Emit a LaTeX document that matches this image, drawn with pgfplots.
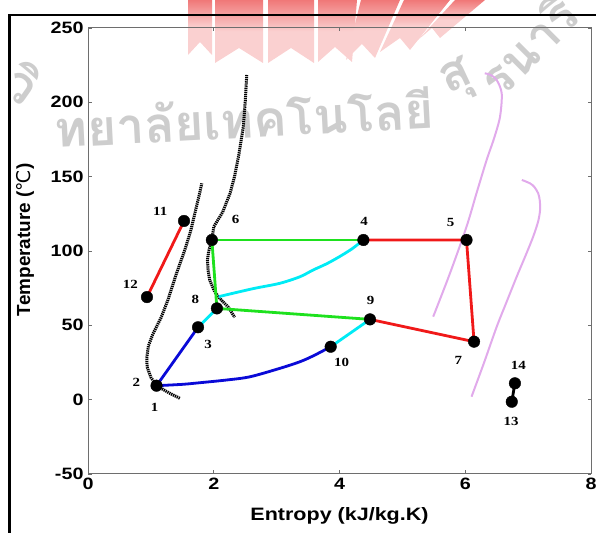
\documentclass[border=0pt]{standalone}
\usepackage{pgfplots}
\pgfplotsset{compat=1.18}
\usepackage{fontspec}
\setmainfont{Liberation Sans}
\newfontfamily\arialx{Liberation Sans}[FakeStretch=1.2]
\newfontfamily\timesx{Liberation Serif}[FakeStretch=1.2]
\newfontfamily\thaifont[Script=Thai]{Loma}
\newfontfamily\djv{DejaVu Sans}
\definecolor{myblue}{RGB}{10,10,215}
\definecolor{mycyan}{RGB}{0,235,245}
\definecolor{mygreen}{RGB}{30,225,30}
\definecolor{myred}{RGB}{240,25,25}
\definecolor{myviolet}{RGB}{225,170,235}
\definecolor{wmgray}{RGB}{205,205,205}
\definecolor{wmpink}{RGB}{250,208,208}
\definecolor{wmred}{RGB}{240,120,120}
\definecolor{axgray}{RGB}{110,110,110}
\begin{document}
\begin{tikzpicture}
\path[use as bounding box] (0,0) rectangle (596bp,533bp);
% watermark (logo strips)
\begin{scope}[yshift=533bp,x=1bp,y=-1bp]
\shade[top color=wmred, bottom color=wmpink, middle color=wmpink] (188,0)--(212,0)--(212,55)--(200,42)--(188,55)--cycle;
\shade[top color=wmred, bottom color=wmpink, middle color=wmpink] (215,0)--(263,0)--(263,63)--(239,48)--(215,63)--cycle;
\shade[top color=wmred, bottom color=wmpink, middle color=wmpink] (268,0)--(314,0)--(314,63)--(291,48)--(268,63)--cycle;
\shade[top color=wmred, bottom color=wmpink, middle color=wmpink] (318,0)--(357,0)--(352,62)--(335,47)--(318,62)--cycle;
\shade[top color=wmred, bottom color=wmpink, middle color=wmpink] (361,0)--(400,0)--(375,58)--(362,44)--(346,60)--cycle;
\shade[top color=wmred, bottom color=wmpink, middle color=wmpink] (404,0)--(450,0)--(410,50)--(400,38)--(380,52)--cycle;
\shade[top color=wmred, bottom color=wmpink, middle color=wmpink] (455,0)--(485,0)--(440,38)--(432,28)--(418,40)--cycle;
\end{scope}
% watermark text
\begin{scope}[font=\thaifont\bfseries\fontsize{50}{50}\selectfont, text=wmgray]
\node[rotate=-35,anchor=center] at (24bp,450bp) {วิ};
\node[rotate=3,anchor=base] at (245bp,395bp) {ทยาลัยเทคโนโลยี};
\node[rotate=25,anchor=center] at (458bp,452bp) {สุ};
\node[rotate=45,anchor=center] at (527bp,488bp) {รนารี};
\end{scope}
% frame
\draw[line width=2.5bp] (9.5bp,-10bp) -- (9.5bp,518bp) -- (620bp,518bp);
\begin{axis}[
  at={(88bp,59bp)}, anchor=south west,
  width=503bp, height=446bp, scale only axis,
  xmin=0, xmax=8, ymin=-50, ymax=250,
  xtick={0,2,4,6,8}, ytick={-50,0,50,100,150,200,250},
  tick align=inside, major tick length=3.5bp,
  axis line style={axgray, line width=1bp},
  every tick/.style={axgray, line width=0.8bp},
  tick label style={font=\arialx\bfseries\fontsize{16.5}{18}\selectfont},
  /pgf/number format/assume math mode=true,
  xticklabel style={yshift=-1bp},
  yticklabel style={xshift=-1bp},
  xlabel={Entropy (kJ/kg.K)},
  ylabel={Temperature ({\djv\mdseries ℃})},
  xlabel style={font=\arialx\bfseries\fontsize{18}{20}\selectfont, at={(axis description cs:0.5,-0.105)}, anchor=base},
  ylabel style={font=\bfseries\fontsize{19}{21}\selectfont, at={(axis description cs:-0.125,0.525)}, anchor=center},
  clip=false,
]
% dotted saturation curves
\addplot[black, line width=3bp, dash pattern=on 1.3bp off 0.8bp] coordinates {
(1.46,0.9)(1.27,5)(1.09,9.4)(1.0,15)(0.94,22)(0.935,28)(0.96,36)(1.03,44)(1.16,55)(1.27,67)(1.40,84)(1.54,100.7)(1.63,113)(1.70,125.4)(1.76,136)(1.81,145.5)};
\addplot[black, line width=3bp, dash pattern=on 1.3bp off 0.8bp] coordinates {
(2.525,218.4)(2.50,200)(2.47,183.6)(2.40,165)(2.33,150)(2.26,138.8)(2.14,126)(2.0,116.3)(1.97,107.4)(1.92,100)(1.90,93.9)(1.91,87)(1.935,80.5)(2.015,72.6)(2.094,68.2)(2.227,62.5)(2.333,55.4)};
% violet curves
\addplot[myviolet, line width=2bp, smooth] coordinates {
(5.49,55.8)(5.757,85)(6.02,116.3)(6.18,139)(6.34,161.2)(6.46,176)(6.553,190.3)(6.58,206)(6.50,215)(6.40,218.5)(6.31,219.5)};
\addplot[myviolet, line width=2bp, smooth] coordinates {
(6.10,2)(6.30,25)(6.50,49)(6.66,66)(6.818,82.7)(6.96,97)(7.08,109.6)(7.16,120)(7.19,127.6)(7.185,134)(7.16,138.8)(7.10,143)(7.03,145.5)(6.90,147.8)};
% blue
\addplot[myblue, line width=2.8bp] coordinates {(1.09,9.4)(1.75,48.7)};
\addplot[myblue, line width=2.8bp, smooth] coordinates {
(1.09,9.4)(1.5,10.3)(1.78,11.4)(2.2,13.2)(2.577,15.4)(3.054,21.1)(3.37,25.5)(3.584,29.5)(3.86,35.6)};
% cyan
\addplot[mycyan, line width=2.8bp] coordinates {(1.75,48.7)(2.05,61.4)};
\addplot[mycyan, line width=2.8bp] coordinates {(3.86,35.6)(4.485,54)};
\addplot[mycyan, line width=2.8bp, smooth] coordinates {
(2.08,69.3)(2.35,72)(2.65,74.9)(3.054,78.3)(3.372,82.7)(3.58,87.2)(3.8,91.5)(4.0,96.2)(4.2,101.5)(4.38,107.4)};
% green
\addplot[mygreen, line width=2.8bp] coordinates {(1.97,107.4)(4.38,107.4)};
\addplot[mygreen, line width=2.8bp] coordinates {(1.97,107.4)(2.05,61.4)};
\addplot[mygreen, line width=2.8bp] coordinates {(2.05,61.4)(4.485,54)};
% red
\addplot[myred, line width=2.8bp] coordinates {(1.527,120.2)(0.938,69)};
\addplot[myred, line width=2.8bp] coordinates {(4.38,107.4)(6.02,107.4)(6.14,39)(4.485,54)};
% 13-14
\addplot[black, line width=2.8bp] coordinates {(6.74,-1.4)(6.79,11)};
% state points
\addplot[only marks, mark=*, mark size=5.8bp, black] coordinates {
(1.09,9.4)(1.75,48.7)(2.05,61.4)(1.97,107.4)(1.527,120.2)(0.938,69)(4.38,107.4)(6.02,107.4)(4.485,54)(6.14,39)(3.86,35.6)(6.79,11)(6.74,-1.4)};
% labels
\begin{scope}[every node/.style={font=\timesx\bfseries\fontsize{12.5}{13}\selectfont, inner sep=0pt, anchor=center}]
\node at (axis cs:1.061,-5.1) {1};
\node at (axis cs:0.768,11.4) {2};
\node at (axis cs:1.909,37.4) {3};
\node at (axis cs:1.707,67.5) {8};
\node at (axis cs:2.349,121.3) {6};
\node at (axis cs:1.150,126.9) {11};
\node at (axis cs:0.673,77.6) {12};
\node at (axis cs:4.390,119.7) {4};
\node at (axis cs:5.769,119.0) {5};
\node at (axis cs:4.496,67.0) {9};
\node at (axis cs:5.889,26.2) {7};
\node at (axis cs:4.035,24.9) {10};
\node at (axis cs:6.844,23.3) {14};
\node at (axis cs:6.728,-14.8) {13};
\end{scope}
\end{axis}
\end{tikzpicture}
\end{document}
